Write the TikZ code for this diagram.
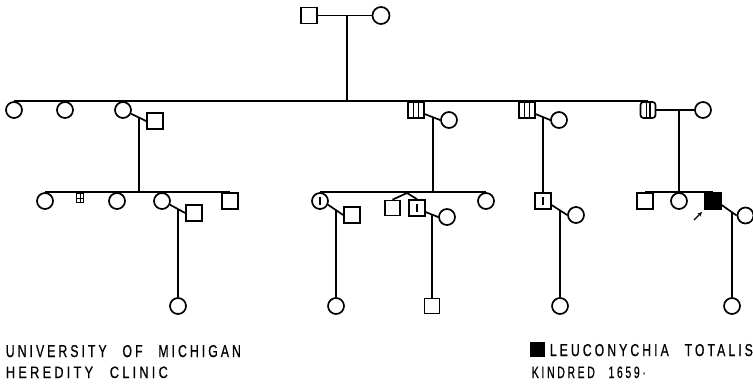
\documentclass[tikz,border=0pt]{standalone}
\usepackage{fontspec}
\newfontfamily\lettering[LetterSpace=25,FakeBold=0.8]{Liberation Sans}
\newcommand\gap{\hspace*{1.3em}}
\usetikzlibrary{calc,arrows.meta}
\tikzset{
  ped/.style={draw, line width=1.7pt, inner sep=0pt},
  male/.style={ped, rectangle, minimum size=16pt},
  female/.style={ped, circle, minimum size=16pt},
  affected/.style={fill=black},
  marked/.style={path picture={
    \draw[line width=1.3pt] ([yshift=-3.8pt]path picture bounding box.center)
      -- ([yshift=3.8pt]path picture bounding box.center);}},
  barred/.style={path picture={
    \foreach \dx in {-2.7pt,2.7pt}
      \draw[line width=1.2pt] ([xshift=\dx]path picture bounding box.north)
        -- ([xshift=\dx]path picture bounding box.south);}},
  doublebar/.style={rounded corners=3pt, path picture={
    \draw[line width=1.2pt] ([xshift=-1.6pt]path picture bounding box.north)
      -- ([xshift=-1.6pt]path picture bounding box.south);
    \draw[line width=1.8pt] ([xshift=1.8pt]path picture bounding box.north)
      -- ([xshift=1.8pt]path picture bounding box.south);}},
  tinybox/.style={ped, rectangle, line width=1.1pt, minimum width=7pt,
    minimum height=9pt, path picture={
    \draw[line width=0.9pt] (path picture bounding box.west) -- (path picture bounding box.east);
    \draw[line width=0.9pt] (path picture bounding box.north) -- (path picture bounding box.south);}},
  caption/.style={anchor=base west, inner sep=0pt},
}
\begin{document}
\begin{tikzpicture}[x=1pt, y=-1pt, line width=1.7pt]
\fill[white] (0,0) rectangle (753,384);
\useasboundingbox (0,0) rectangle (753,384);
\coordinate (IVrow) at (0,306);

% ---- generation I
\node[male] (I1) at (309,15.5) {};
\node[female, minimum size=17pt] (I2) at (381,15.5) {};
\draw (I1.east) -- (I2.west);
\coordinate (m1) at (intersection of I1.east--I2.west and 347,0--347,400);

% ---- generation II
\node[female] (II1) at (14,110) {};
\node[female] (II2) at (65,110) {};
\node[female] (II3) at (123,110) {};
\node[male]   (II3s) at (155,121) {};
\node[male, barred] (II4) at (416,110) {};
\node[female] (II4s) at (449,120) {};
\node[male, barred] (II5) at (527,110) {};
\node[female] (II5s) at (559,120) {};
\node[male, doublebar, minimum width=15pt] (II6) at (648,110) {};
\node[female] (II6s) at (703,110) {};

\draw (II1.north) -- (II6.north);
\draw (m1) -- (m1 |- II1.north);

% marriage lines, each with the point its line of descent starts from
\draw (II3.-25) -- (II3s.west);
\coordinate (m3) at (intersection of II3.-25--II3s.west and 139,0--139,400);
\draw (II4.-25) -- (II4s.west);
\coordinate (m4) at (intersection of II4.-25--II4s.west and 433,0--433,400);
\draw (II5.-25) -- (II5s.west);
\coordinate (m5) at (intersection of II5.-25--II5s.west and 543,0--543,400);
\draw (II6.east) -- (II6s.west);
\coordinate (m6) at (intersection of II6.east--II6s.west and 679,0--679,400);

% ---- generation III, first sibship
\node[female] (III1) at (45,201) {};
\node[tinybox, anchor=north] (III2) at (80,193) {};
\node[female] (III3) at (117,201) {};
\node[female] (III4) at (162,201) {};
\node[male]   (III4s) at (194,213) {};
\node[male]   (III5) at (230,201) {};
\draw (III1.north) -- (III5.north);
\draw (m3) -- (m3 |- III1.north);
\draw (III4.-25) -- (III4s.west);
\coordinate (m34) at (intersection of III4.-25--III4s.west and 178,0--178,400);
\node[female] (IV1) at (m34 |- IVrow) {};
\draw (m34) -- (IV1.north);

% ---- generation III, second sibship
\node[female, marked] (III6) at (320,201) {};
\node[male] (III6s) at (352,215) {};
\coordinate (tw) at (407,193);
\node[male, minimum size=15pt] (III7) at (392.5,208) {};
\node[male, marked] (III8) at (417,208) {};
\node[female] (III8s) at (447,217) {};
\node[female] (III9) at (486,201) {};
\draw (III6.north) -- (III9.north);
\draw (m4) -- (m4 |- III6.north);
\draw (tw) -- (III7.north);
\draw (tw) -- (III8.north);
\draw (III6.-25) -- (III6s.west);
\coordinate (m36) at (intersection of III6.-25--III6s.west and 336,0--336,400);
\node[female] (IV2) at (m36 |- IVrow) {};
\draw (m36) -- (IV2.north);
\draw (III8.-25) -- (III8s.west);
\coordinate (m38) at (intersection of III8.-25--III8s.west and 432,0--432,400);
\node[male, minimum size=15pt] (IV3) at (m38 |- IVrow) {};
\draw (m38) -- (IV3.north);

% ---- generation III, third sibship
\node[male, marked] (III10) at (543,201) {};
\node[female] (III10s) at (576,215) {};
\draw (m5) -- (III10.north);
\draw (III10.-25) -- (III10s.west);
\coordinate (m310) at (intersection of III10.-25--III10s.west and 560,0--560,400);
\node[female] (IV4) at (m310 |- IVrow) {};
\draw (m310) -- (IV4.north);

% ---- generation III, fourth sibship (proband)
\node[male] (III11) at (645,201) {};
\node[female] (III12) at (679,201) {};
\node[male, affected] (III13) at (713,201) {};
\node[female] (III13s) at (745.5,215.5) {};
\draw (III11.north) -- (III13.north);
\draw (m6) -- (m6 |- III11.north);
\draw (III13.-25) -- (III13s.west);
\coordinate (m313) at (intersection of III13.-25--III13s.west and 732,0--732,400);
\node[female] (IV5) at (m313 |- IVrow) {};
\draw (m313) -- (IV5.north);
\coordinate (ptr) at (694,220);
\draw[line width=1.1pt, -{Stealth[length=4.5pt,width=4pt]}, shorten >=3pt] (ptr) -- (III13.south west);

% ---- captions
\node[caption] (uni) at (5,357) {\resizebox{235pt}{12pt}{\lettering UNIVERSITY\gap OF\gap MICHIGAN}};
\node[caption] (clinic) at (5,378) {\resizebox{162pt}{11.5pt}{\lettering HEREDITY\gap CLINIC}};
\node[male, affected, minimum size=13pt] (key) at (537.5,349.5) {};
\node[caption] (trait) at (549,356) {\resizebox{203pt}{12pt}{\lettering LEUCONYCHIA\gap TOTALIS}};
\node[caption] (kin) at (531,378) {\resizebox{114pt}{11.5pt}{\lettering KINDRED\gap 1659·}};
\end{tikzpicture}
\end{document}
